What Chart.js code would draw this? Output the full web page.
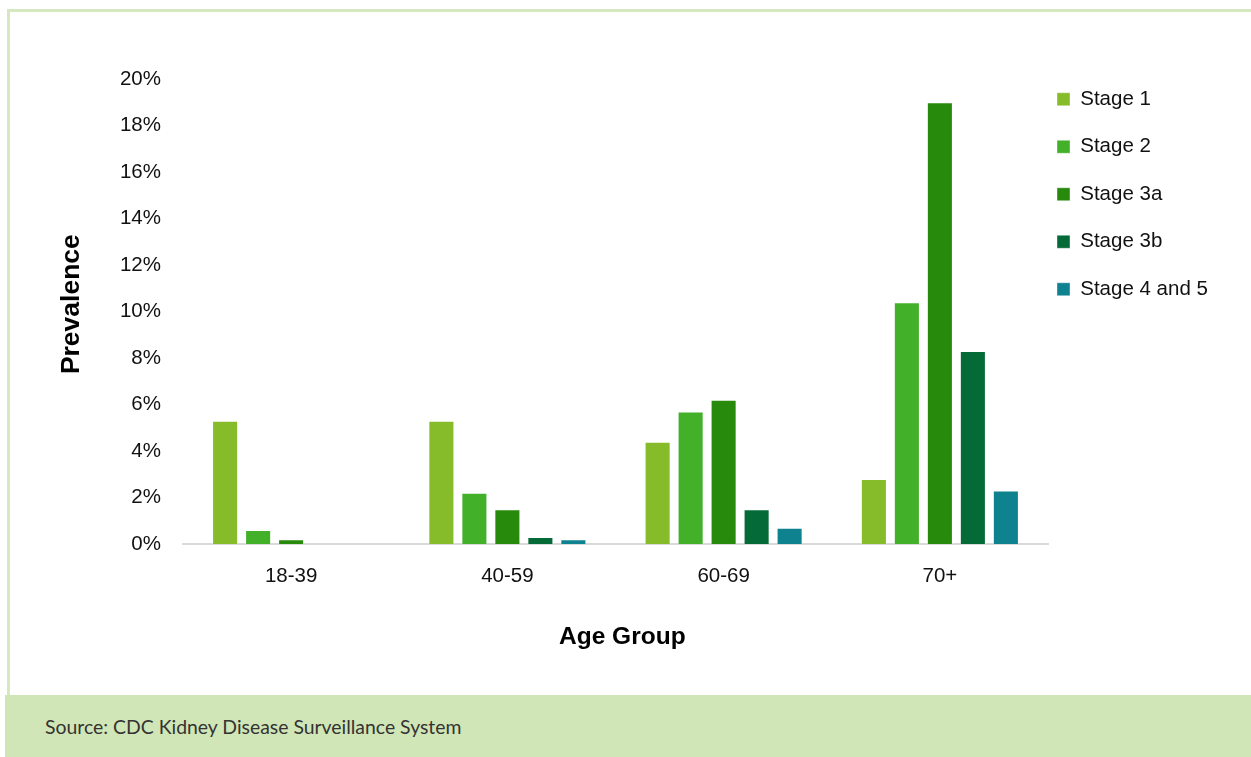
<!DOCTYPE html>
<html>
<head>
<meta charset="utf-8">
<title>CKD prevalence by age group</title>
<script src="https://cdn.jsdelivr.net/npm/chart.js@4/dist/chart.umd.min.js"></script>
<style>
  html, body { margin: 0; padding: 0; background: #ffffff; }
  body { width: 1251px; height: 757px; position: relative; overflow: hidden; }
  #frame {
    position: absolute; left: 7px; top: 9px; width: 1244px; height: 686px;
    border-left: 3px solid #D5E8BF; border-top: 3px solid #D5E8BF; box-sizing: border-box;
  }
  #wrap { position: absolute; left: 0; top: 0; width: 1251px; height: 696px; }
  #footer {
    position: absolute; left: 5px; top: 695px; width: 1246px; height: 62px;
    background: #D1E6B6;
  }
  #footer span {
    position: absolute; left: 40px; top: 50%; transform: translateY(-50%);
    font-family: Lato, "Open Sans", sans-serif; font-size: 19.4px; color: #333333;
  }
</style>
</head>
<body>
<div id="frame"></div>
<div id="wrap"><canvas id="chart" width="1251" height="696"></canvas></div>
<div id="footer"><span>Source: CDC Kidney Disease Surveillance System</span></div>
<script>
// Age groups on the x axis
const ageGroups = ['18-39', '40-59', '60-69', '70+'];

// Prevalence (%) of each CKD stage per age group
const stage1   = [5.3, 5.3, 4.4, 2.8];
const stage2   = [0.6, 2.2, 5.7, 10.4];
const stage3a  = [0.2, 1.5, 6.2, 19.0];
const stage3b  = [0,   0.3, 1.5, 8.3];
const stage45  = [0,   0.2, 0.7, 2.3];

const seriesNames = ['Stage 1', 'Stage 2', 'Stage 3a', 'Stage 3b', 'Stage 4 and 5'];
const seriesColors = ['#86BB29', '#43B02A', '#278A0D', '#046A38', '#0E828F'];
const seriesValues = [stage1, stage2, stage3a, stage3b, stage45];

// Y axis range and step (percent)
const yMin = 0, yMax = 20, yStep = 2;

const datasets = seriesNames.map((name, i) => ({
  label: name,
  data: seriesValues[i],
  backgroundColor: seriesColors[i],
  borderColor: 'rgba(255,255,255,0.4)',
  borderWidth: 1,
  categoryPercentage: 0.763,
  barPercentage: 0.79
}));

// Nudge the legend block so its rows line up beside the top of the plot,
// and let it extend to the canvas edge so no label gets clipped
const legendPlacement = {
  id: 'legendPlacement',
  afterLayout(chart) {
    const lg = chart.legend;
    if (!lg) return;
    const dx = -18, dy = -17;
    lg.left += dx;
    lg.top += dy; lg.bottom += dy;
    lg.right = chart.width;
    lg.width = lg.right - lg.left;
  }
};

const tickFont = { family: '"Liberation Sans", Arial, sans-serif', size: 20.5 };

new Chart(document.getElementById('chart'), {
  type: 'bar',
  data: { labels: ageGroups, datasets },
  plugins: [legendPlacement],
  options: {
    responsive: false,
    animation: false,
    layout: { padding: { top: 79, right: 28, bottom: 0, left: 0 } },
    plugins: {
      tooltip: { enabled: false },
      legend: {
        position: 'right',
        align: 'start',
        maxWidth: 175,
        labels: {
          boxWidth: 13,
          boxHeight: 13,
          padding: 27,
          color: '#111111',
          font: { family: '"Liberation Sans", Arial, sans-serif', size: 20.5 }
        }
      }
    },
    scales: {
      x: {
        grid: { display: false, drawTicks: false },
        border: { display: true, color: '#D9D9D9', width: 2 },
        ticks: { color: '#111111', font: tickFont, padding: 20 },
        title: {
          display: true, text: '  Age Group', color: '#000000',
          font: { family: '"Liberation Sans", Arial, sans-serif', size: 24.5, weight: 'bold' },
          padding: { top: 0, bottom: 44 }
        },
        afterFit(scale) { scale.height = 152; }
      },
      y: {
        min: yMin, max: yMax,
        grid: { display: false, drawTicks: false },
        border: { display: false },
        ticks: {
          stepSize: yStep, color: '#111111', font: tickFont, padding: 22,
          callback: v => v + '%'
        },
        title: {
          display: true, text: '  Prevalence', color: '#000000',
          font: { family: '"Liberation Sans", Arial, sans-serif', size: 26.5, weight: 'bold' },
          padding: { top: 56, bottom: 0 }
        },
        afterFit(scale) { scale.width = 183; }
      }
    }
  }
});
</script>
</body>
</html>
